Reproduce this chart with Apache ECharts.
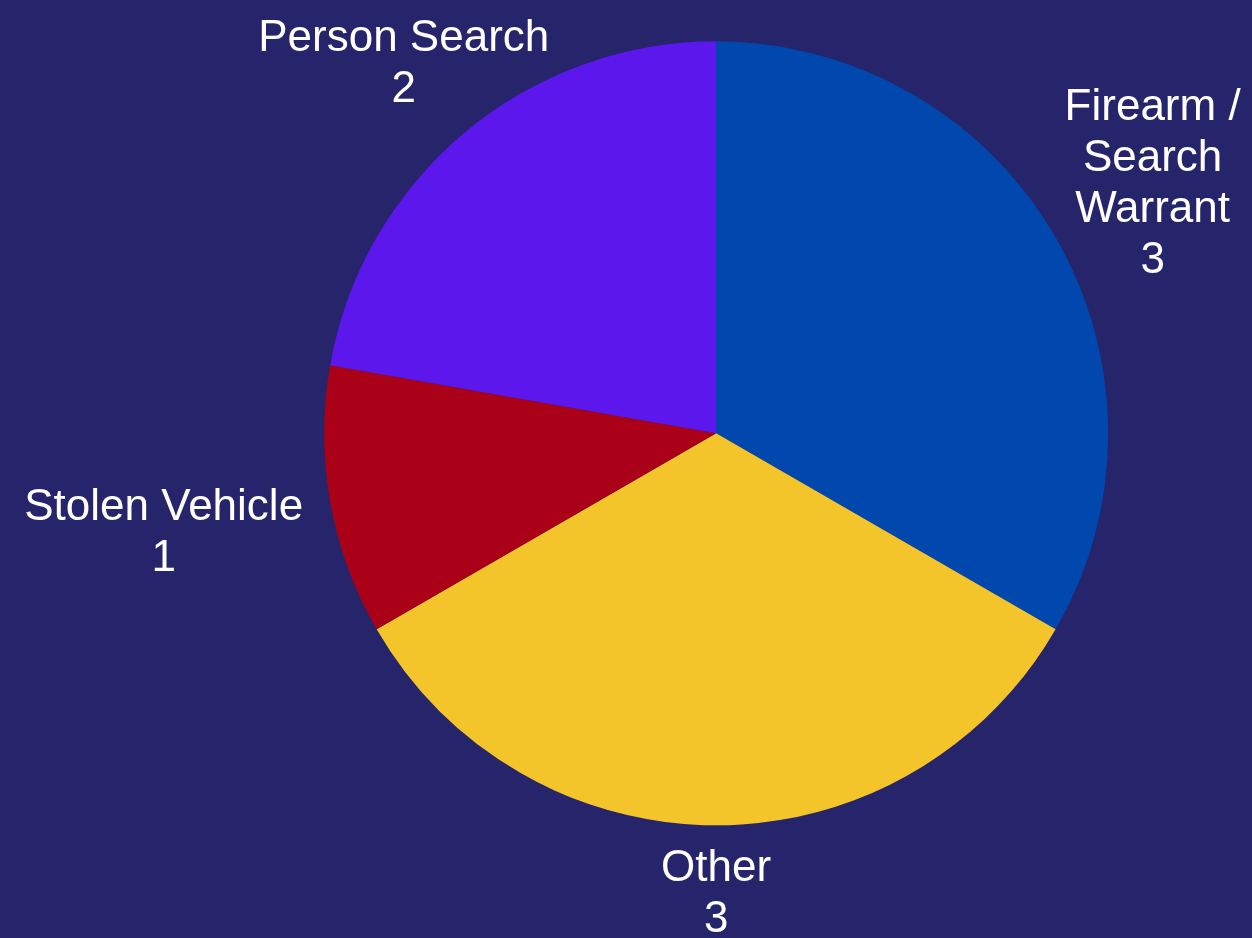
<!DOCTYPE html>
<html>
<head>
<meta charset="utf-8">
<script src="https://cdn.jsdelivr.net/npm/echarts@6/dist/echarts.min.js"></script>
<style>
  html, body { margin: 0; padding: 0; background: #26246a; }
  #chart { width: 1252px; height: 938px; }
</style>
</head>
<body>
<div id="chart"></div>
<script>
// 数据
var categories = ['Firearm /\nSearch\nWarrant', 'Other', 'Stolen Vehicle', 'Person Search'];
var values = [3, 3, 1, 2];
var colors = ['#0048ad', '#f3c52a', '#aa0018', '#5c17ec'];

var FONT_SIZE = 44;
var LINE_H = 51;
var GAP = 24;

var myChart = echarts.init(document.getElementById('chart'));

// 量文字宽度
var ctx = document.createElement('canvas').getContext('2d');
ctx.font = FONT_SIZE + 'px "Liberation Sans", Arial, sans-serif';

// label 放在扇区中线方向上，刚好离开圆一点
function placeLabel(params) {
    var layout = myChart.getModel().getSeriesByIndex(0).getData().getItemLayout(params.dataIndex);
    var mid = (layout.startAngle + layout.endAngle) / 2;
    var ux = Math.cos(mid), uy = Math.sin(mid);
    var lines = (categories[params.dataIndex] + '\n' + values[params.dataIndex]).split('\n');
    var n = lines.length;
    var d = layout.r;
    for (; d < layout.r + 400; d++) {
        var cx = layout.cx + ux * d, cy = layout.cy + uy * d;
        var ok = true;
        for (var i = 0; i < n; i++) {
            var w = ctx.measureText(lines[i]).width;
            var ly = cy + (i - (n - 1) / 2) * LINE_H;
            var x0 = cx - w / 2, x1 = cx + w / 2;
            var y0 = ly - 0.36 * FONT_SIZE, y1 = ly + 0.36 * FONT_SIZE;
            var px = Math.max(x0, Math.min(layout.cx, x1));
            var py = Math.max(y0, Math.min(layout.cy, y1));
            if (Math.hypot(px - layout.cx, py - layout.cy) < layout.r + GAP) { ok = false; break; }
        }
        if (ok) break;
    }
    return {
        x: layout.cx + ux * d,
        y: layout.cy + uy * d + 3,
        align: 'center',
        verticalAlign: 'middle'
    };
}

var pieData = categories.map(function (name, i) {
    return { name: name, value: values[i], itemStyle: { color: colors[i] } };
});

var option = {
    backgroundColor: '#26246a',
    animation: false,
    series: [{
        type: 'pie',
        center: ['57.2%', '46.2%'],
        radius: 392,
        startAngle: 90,
        clockwise: true,
        avoidLabelOverlap: false,
        data: pieData,
        label: {
            show: true,
            position: 'outside',
            formatter: '{b}\n{c}',
            color: '#ffffff',
            fontSize: FONT_SIZE,
            lineHeight: LINE_H,
            fontFamily: '"Liberation Sans", Arial, sans-serif',
            align: 'center'
        },
        labelLine: { show: false },
        labelLayout: placeLabel,
        itemStyle: { borderWidth: 0 },
        emphasis: { disabled: true }
    }]
};

myChart.setOption(option);
</script>
</body>
</html>
